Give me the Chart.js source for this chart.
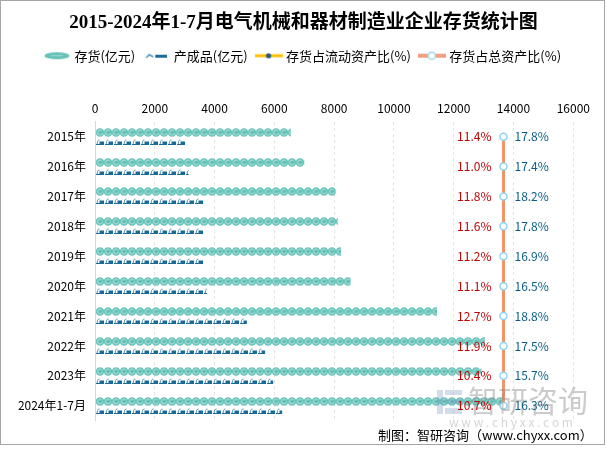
<!DOCTYPE html>
<html>
<head>
<meta charset="utf-8">
<script src="https://cdn.jsdelivr.net/npm/chart.js@4.4.1/dist/chart.umd.min.js"></script>
<style>
  html, body { margin: 0; padding: 0; background: #fff; }
  canvas { display: block; }
</style>
</head>
<body>
<canvas id="chart" width="607" height="449"></canvas>
<script>
// data
const years = ['2015年', '2016年', '2017年', '2018年', '2019年', '2020年', '2021年', '2022年', '2023年', '2024年1-7月'];
const inventory = [6550, 7000, 8050, 8120, 8230, 8550, 11440, 13040, 12930, 13600];   // 存货(亿元)
const finished = [3030, 3130, 3620, 3620, 3620, 3750, 5080, 5690, 5960, 6260];        // 产成品(亿元)
const ratioCurrent = [17.8, 17.4, 18.2, 17.8, 16.9, 16.5, 18.8, 17.5, 15.7, 16.3];    // 存货占流动资产比(%)
const ratioTotal = [11.4, 11.0, 11.8, 11.6, 11.2, 11.1, 12.7, 11.9, 10.4, 10.7];      // 存货占总资产比(%)
const xTicks = [0, 2000, 4000, 6000, 8000, 10000, 12000, 14000, 16000];

const FONT = '"Noto Sans CJK SC", sans-serif';
const LINE_SLOT = 0.854; // where the ratio lines sit on the hidden x2 axis

function makeCanvas(w, h, draw) {
  const c = document.createElement('canvas');
  c.width = w; c.height = h;
  draw(c.getContext('2d'));
  return c;
}

// bar fills
const beadTile = makeCanvas(8, 9, g => {
  g.fillStyle = '#6cc4bb';
  g.beginPath(); g.arc(4, 4.5, 4.3, 0, Math.PI * 2); g.fill();
  g.strokeStyle = '#a8dfd8'; g.lineWidth = 1;
  g.beginPath(); g.arc(4, 4.5, 2.4, 0.3, Math.PI * 1.8); g.stroke();
  g.fillStyle = '#58b5ab'; g.fillRect(3.5, 4, 1.2, 1.2);
});
const glyphTile = makeCanvas(9, 10, g => {
  g.strokeStyle = '#4b95bd'; g.lineWidth = 1;
  g.beginPath(); g.moveTo(1, 8); g.lineTo(1.5, 4.5); g.quadraticCurveTo(2, 3, 3.5, 3); g.stroke();
  g.fillStyle = '#1b6a96';
  g.fillRect(3.5, 4.5, 4.5, 2.5);
  g.fillRect(0, 7, 8, 1);
});
const tiles = { 0: beadTile, 1: glyphTile };

// legend icons
const legendIcons = [
  makeCanvas(26, 9, g => {
    g.fillStyle = '#66c2b8';
    g.beginPath(); g.ellipse(13, 4.5, 12.5, 3.6, 0, 0, Math.PI * 2); g.fill();
    g.fillStyle = '#9ad9d1'; g.fillRect(7, 4, 12, 1);
  }),
  makeCanvas(22, 8, g => {
    g.strokeStyle = '#4a94bb'; g.lineWidth = 1.5;
    g.beginPath(); g.moveTo(1, 6); g.lineTo(4, 3); g.lineTo(8, 5); g.stroke();
    g.fillStyle = '#1b6d99'; g.fillRect(10, 3, 12, 3);
  }),
  makeCanvas(28, 8, g => {
    g.strokeStyle = '#ffc000'; g.lineWidth = 3;
    g.beginPath(); g.moveTo(0, 4); g.lineTo(28, 4); g.stroke();
    g.fillStyle = '#1d5c8a';
    g.beginPath(); g.arc(14, 4, 2.6, 0, Math.PI * 2); g.fill();
  }),
  makeCanvas(28, 10, g => {
    g.strokeStyle = '#f3a081'; g.lineWidth = 4;
    g.beginPath(); g.moveTo(0, 5); g.lineTo(28, 5); g.stroke();
    g.fillStyle = '#fff'; g.strokeStyle = '#9fd8ef'; g.lineWidth = 1.5;
    g.beginPath(); g.arc(14, 5, 3.6, 0, Math.PI * 2); g.fill(); g.stroke();
  })
];

const patternBars = {
  id: 'patternBars',
  afterDatasetDraw(chart, args) {
    const tile = tiles[args.index];
    if (!tile) return;
    const ctx = chart.ctx;
    const pat = ctx.createPattern(tile, 'repeat');
    args.meta.data.forEach(bar => {
      const { x, y, base, height } = bar.getProps(['x', 'y', 'base', 'height'], true);
      ctx.save();
      ctx.translate(Math.round(base), Math.round(y - height / 2));
      ctx.fillStyle = pat;
      ctx.fillRect(0, 0, x - Math.round(base), height);
      ctx.restore();
    });
  }
};

const decorations = {
  id: 'decorations',
  beforeDraw(chart) {
    const ctx = chart.ctx;
    ctx.save();
    ctx.fillStyle = '#fff';
    ctx.fillRect(0, 0, chart.width, chart.height);
    ctx.restore();
  },
  afterDatasetsDraw(chart) {
    const ctx = chart.ctx;
    ctx.save();
    // watermark
    ctx.fillStyle = 'rgba(110,140,190,0.3)';
    ctx.fillRect(437, 390, 6, 24);
    ctx.fillRect(445, 390, 17, 5);
    ctx.fillRect(445, 399, 17, 5);
    ctx.fillRect(445, 408, 17, 6);
    ctx.fillStyle = 'rgba(140,140,140,0.45)';
    ctx.font = '30px ' + FONT;
    ctx.textAlign = 'left';
    ctx.textBaseline = 'middle';
    ctx.fillText('智研咨询', 468, 401);
    ctx.fillStyle = 'rgba(150,150,150,0.4)';
    ctx.font = '12px ' + FONT;
    ctx.textAlign = 'center';
    ctx.fillText('w w w . c h y x x . c o m', 511, 422);

    // ratio labels beside the line points
    const pts = chart.getDatasetMeta(3).data;
    ctx.font = '12px ' + FONT;
    pts.forEach((p, i) => {
      ctx.textAlign = 'right';
      ctx.fillStyle = '#c00000';
      ctx.fillText(ratioTotal[i].toFixed(1) + '%', p.x - 12, p.y);
      ctx.textAlign = 'left';
      ctx.fillStyle = '#0a5e86';
      ctx.fillText(ratioCurrent[i].toFixed(1) + '%', p.x + 11, p.y);
    });
    ctx.restore();
  },
  afterDraw(chart) {
    const ctx = chart.ctx;
    ctx.save();
    ctx.fillStyle = '#000';
    ctx.font = '13px ' + FONT;
    ctx.textAlign = 'left';
    ctx.textBaseline = 'middle';
    ctx.fillText('制图：智研咨询（www.chyxx.com）', 378, 435);
    ctx.strokeStyle = '#a6a6a6';
    ctx.lineWidth = 1;
    ctx.strokeRect(0.5, 0.5, 604, 444);
    ctx.restore();
  }
};

Chart.defaults.font.family = FONT;
Chart.defaults.color = '#000';

new Chart(document.getElementById('chart'), {
  type: 'bar',
  data: {
    labels: years,
    datasets: [
      {
        label: '存货(亿元)',
        data: inventory,
        backgroundColor: 'rgba(0,0,0,0)',
        barThickness: 9,
        order: 2
      },
      {
        label: '产成品(亿元)',
        data: finished,
        backgroundColor: 'rgba(0,0,0,0)',
        barThickness: 10,
        order: 2
      },
      {
        type: 'line',
        label: '存货占流动资产比(%)',
        indexAxis: 'y',
        xAxisID: 'x2',
        data: years.map(y => ({ x: LINE_SLOT, y })),
        borderColor: '#ffc000',
        borderWidth: 3,
        pointRadius: 2.5,
        pointBackgroundColor: '#1d5c8a',
        pointBorderWidth: 0,
        order: 1
      },
      {
        type: 'line',
        label: '存货占总资产比(%)',
        indexAxis: 'y',
        xAxisID: 'x2',
        data: years.map(y => ({ x: LINE_SLOT, y })),
        borderColor: '#f0956b',
        borderWidth: 3,
        pointRadius: 3.5,
        pointBackgroundColor: '#fff',
        pointBorderColor: '#8fd3ef',
        pointBorderWidth: 1.5,
        order: 0
      }
    ]
  },
  options: {
    indexAxis: 'y',
    responsive: false,
    animation: false,
    layout: { padding: { left: 5, right: 5, top: 0, bottom: 28.3 } },
    scales: {
      x: {
        position: 'top',
        min: 0,
        max: 16000,
        afterBuildTicks: s => { s.ticks = xTicks.map(v => ({ value: v })); },
        afterFit: s => { s.height = 49.5; },
        ticks: { padding: 6.5, font: { size: 12 }, color: '#000', callback: v => String(v) },
        grid: { color: '#e4e4e4', drawTicks: false },
        border: { display: false, dash: [3, 3] }
      },
      x2: { type: 'linear', display: false, min: 0, max: 1 },
      y: {
        afterFit: s => { s.width = 90; },
        ticks: { padding: 9, font: { size: 12 }, color: '#000' },
        grid: { display: false, drawTicks: false },
        border: { display: true, color: '#d6d6d6' }
      },
      // empty right-hand gutter so the plot ends where the reference does
      yGutter: {
        type: 'category',
        position: 'right',
        afterFit: s => { s.width = 28.7; },
        ticks: { display: false },
        grid: { display: false, drawTicks: false },
        border: { display: false }
      }
    },
    plugins: {
      title: {
        display: true,
        text: '2015-2024年1-7月电气机械和器材制造业企业存货统计图',
        color: '#000',
        font: { size: 19, weight: 'bold', family: '"Liberation Serif", "Noto Sans CJK SC", serif' },
        padding: { top: 12.1, bottom: 4.3 }
      },
      legend: {
        position: 'top',
        labels: {
          usePointStyle: true,
          pointStyleWidth: 22,
          padding: 10,
          color: '#000',
          font: { size: 13 },
          sort: (a, b) => a.datasetIndex - b.datasetIndex,
          generateLabels(chart) {
            const items = Chart.defaults.plugins.legend.labels.generateLabels(chart);
            items.forEach(it => { it.pointStyle = legendIcons[it.datasetIndex]; });
            return items;
          }
        }
      },
      tooltip: { enabled: false }
    }
  },
  plugins: [patternBars, decorations]
});
</script>
</body>
</html>
